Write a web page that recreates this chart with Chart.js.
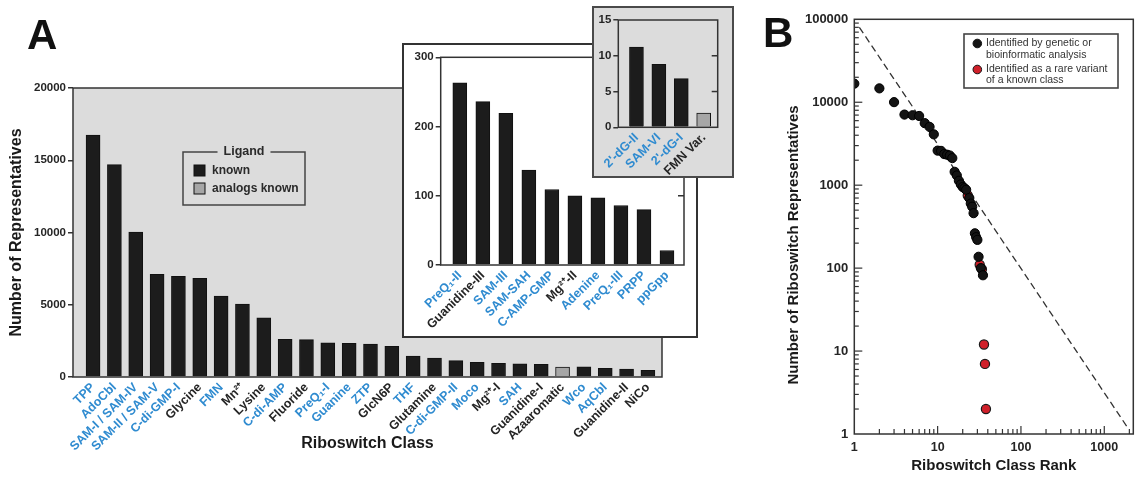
<!DOCTYPE html>
<html><head><meta charset="utf-8">
<script src="https://cdn.jsdelivr.net/npm/chart.js@4.4.1/dist/chart.umd.min.js"></script>
<style>
html,body{margin:0;padding:0;background:#fff;width:1141px;height:478px;overflow:hidden;font-family:"Liberation Sans",Arial,sans-serif;}
.box{position:absolute;box-sizing:border-box;}
canvas{display:block;}
.plabel{position:absolute;font-weight:bold;font-size:42px;line-height:42px;color:#111;font-family:"Liberation Sans",Arial,sans-serif;}
</style></head><body>
<div class="box" style="left:0;top:0;width:740px;height:478px"><canvas id="ca" width="740" height="478"></canvas></div>
<div class="box" style="left:402px;top:43px;width:296px;height:295px;background:#fff;border:2px solid #333"><canvas id="c1" width="292" height="291"></canvas></div>
<div class="box" style="left:592px;top:6px;width:142px;height:172px;background:#dcdcdc;border:2px solid #4a4a4a"><canvas id="c2" width="138" height="168"></canvas></div>
<div class="box" style="left:740px;top:0;width:401px;height:478px"><canvas id="cb" width="401" height="478"></canvas></div>
<div class="plabel" style="left:27px;top:14px">A</div>
<div class="plabel" style="left:763px;top:12px">B</div>
<script>
// ---------------- data ----------------
const mainLabels = ['TPP','AdoCbl','SAM-I / SAM-IV','SAM-II / SAM-V','C-di-GMP-I','Glycine','FMN','Mn²⁺','Lysine','C-di-AMP','Fluoride','PreQ₁-I','Guanine','ZTP','GlcN6P','THF','Glutamine','C-di-GMP-II','Moco','Mg²⁺-I','SAH','Guanidine-I','Azaaromatic','Wco','AqCbl','Guanidine-II','NiCo'];
const mainValues = [16750,14700,10030,7100,6970,6830,5600,5050,4100,2610,2590,2370,2330,2280,2120,1450,1310,1130,1020,950,920,880,690,700,600,550,460];
const mainBlue   = [1,1,1,1,1,0,1,0,0,1,0,1,1,1,0,1,0,1,1,0,1,0,0,1,1,0,0];
const mainAnalog = [0,0,0,0,0,0,0,0,0,0,0,0,0,0,0,0,0,0,0,0,0,0,1,0,0,0,0];
const mainTicks  = [0,5000,10000,15000,20000];

const inset1Labels = ['PreQ₁-II','Guanidine-III','SAM-III','SAM-SAH','C-AMP-GMP','Mg²⁺-II','Adenine','PreQ₁-III','PRPP','ppGpp'];
const inset1Values = [263,236,219,137,109,100,97,86,80,21];
const inset1Blue   = [1,0,1,1,1,0,1,1,1,1];
const inset1Analog = [0,0,0,0,0,0,0,0,0,0];
const inset1Ticks  = [0,100,200,300];

const inset2Labels = ["2'-dG-II",'SAM-VI',"2'-dG-I",'FMN Var.'];
const inset2Values = [11.2,8.8,6.8,2];
const inset2Blue   = [1,1,1,0];
const inset2Analog = [0,0,0,1];
const inset2Ticks  = [0,5,10,15];

const legendTitleA = 'Ligand';
const legendLabelsA = ['known','analogs known'];

const rankKnown  = [1,2,3,4,5,6,7,8,9,10,11,12,13,14,15,16,17,18,19,20,21,22,24,25,26,27,28,29,30,31,33,35];
const valueKnown = [16750,14700,10030,7100,6970,6830,5600,5050,4100,2610,2590,2370,2330,2280,2120,1450,1310,1130,1020,950,920,880,700,600,550,460,263,236,219,137,100,82];
const rankVariant  = [23,32,34,36,37,38];
const valueVariant = [750,110,97,12,7,2];
const fitRank  = [1.15,1900];
const fitValue = [80000,1.2];
const rankTicks  = [1,10,100,1000];
const countTicks = [1,10,100,1000,10000,100000];
const legendLabelsB = [['Identified by genetic or','bioinformatic analysis'],['Identified as a rare variant','of a known class']];

// ---------------- styles ----------------
const FAM = '"Liberation Sans", Arial, sans-serif';
Chart.defaults.font.family = FAM;
const BLACK = '#1c1c1c', GREY = '#a6a6a6', BLUE = '#2f8bd0', DARK = '#252525', PANEL = '#dcdcdc', FRAME = '#333';

const framePlugin = {
  id: 'frame',
  beforeDraw(chart, args, o) {
    if (!o.fill) return;
    const a = chart.chartArea, c = chart.ctx;
    c.save(); c.fillStyle = o.fill; c.fillRect(a.left, a.top, a.right - a.left, a.bottom - a.top); c.restore();
  },
  afterDatasetsDraw(chart, args, o) {
    const a = chart.chartArea, c = chart.ctx;
    c.save();
    c.strokeStyle = FRAME; c.lineWidth = o.lw || 1.5;
    c.strokeRect(a.left, a.top, a.right - a.left, a.bottom - a.top);
    if (o.rightTicks) {
      const y = chart.scales.y;
      o.rightTicks.forEach(v => { const p = y.getPixelForValue(v); c.beginPath(); c.moveTo(a.right, p); c.lineTo(a.right - 6, p); c.stroke(); });
    }
    c.restore();
  }
};

function barChart(id, labels, values, blue, analog, ticks, o) {
  return new Chart(document.getElementById(id), {
    type: 'bar',
    data: { datasets: [{
      data: values.map((v, i) => ({ x: i, y: v })),
      backgroundColor: analog.map(a => a ? GREY : BLACK),
      borderColor: '#111', borderWidth: 1, barThickness: 14
    }]},
    options: {
      responsive: false, animation: false,
      layout: { padding: { top: o.padTop, right: o.padRight, left: 0, bottom: 0 } },
      plugins: { legend: { display: false }, tooltip: { enabled: false }, frame: { fill: o.fill, rightTicks: o.rightTicks } },
      scales: {
        x: {
          type: 'linear', min: o.xmin, max: o.xmax, offset: false,
          afterBuildTicks: s => { s.ticks = labels.map((_, i) => ({ value: i })); },
          afterFit: s => { s.height = o.xh; },
          grid: { display: false, offset: false, drawTicks: false },
          border: { display: false },
          ticks: {
            autoSkip: false, minRotation: 45, maxRotation: 45, padding: 3,
            font: { size: 12.5, weight: 'bold' },
            color: c => blue[c.index] ? BLUE : DARK,
            callback: (v, i) => labels[i]
          },
          title: o.xTitle ? { display: true, text: o.xTitle, color: '#1a1a1a', font: { size: 16, weight: 'bold' }, padding: { top: 0, bottom: 25 } } : { display: false }
        },
        y: {
          min: 0, max: ticks[ticks.length - 1],
          afterBuildTicks: s => { s.ticks = ticks.map(v => ({ value: v })); },
          afterFit: s => { s.width = o.yw; },
          grid: { drawOnChartArea: false, drawTicks: true, tickLength: 5, color: FRAME, lineWidth: 1.5 },
          border: { display: false },
          ticks: { padding: 2, font: { size: 11.5, weight: 'bold' }, color: DARK, callback: v => String(v) },
          title: o.yTitle ? { display: true, text: o.yTitle, color: '#1a1a1a', font: { size: 16, weight: 'bold' }, padding: { top: 7, bottom: 0 } } : { display: false }
        }
      }
    },
    plugins: [framePlugin, o.extra || {id: 'none' + id}]
  });
}

// Legend for panel A
const legendA = {
  id: 'legendA',
  afterDraw(chart) {
    const c = chart.ctx;
    const L = 183, T = 152, R = 305, B = 205, cx = 244;
    c.save();
    c.font = 'bold 12.5px ' + FAM;
    const tw = c.measureText(legendTitleA).width;
    c.strokeStyle = '#444'; c.lineWidth = 1.5;
    c.beginPath(); c.moveTo(cx - tw / 2 - 6, T); c.lineTo(L, T); c.lineTo(L, B); c.lineTo(R, B); c.lineTo(R, T); c.lineTo(cx + tw / 2 + 6, T); c.stroke();
    c.fillStyle = '#2a2a2a'; c.textAlign = 'center'; c.textBaseline = 'middle';
    c.fillText(legendTitleA, cx, T);
    c.font = 'bold 12px ' + FAM; c.textAlign = 'left';
    legendLabelsA.forEach((t, i) => {
      const y = 170.5 + i * 18;
      c.fillStyle = i ? GREY : BLACK; c.fillRect(194, y - 5.5, 11, 11);
      c.strokeStyle = '#111'; c.lineWidth = 1; c.strokeRect(194, y - 5.5, 11, 11);
      c.fillStyle = '#2a2a2a'; c.fillText(t, 212, y + 0.5);
    });
    c.restore();
  }
};

barChart('ca', mainLabels, mainValues, mainBlue, mainAnalog, mainTicks,
  { padTop: 88, padRight: 78, xmin: -0.94, xmax: 26.66, xh: 101, yw: 73, fill: PANEL,
    xTitle: 'Riboswitch Class', yTitle: 'Number of Representatives', extra: legendA });
barChart('c1', inset1Labels, inset1Values, inset1Blue, inset1Analog, inset1Ticks,
  { padTop: 12.3, padRight: 12, xmin: -0.83, xmax: 9.74, xh: 71, yw: 36.7, rightTicks: [100, 200] });
barChart('c2', inset2Labels, inset2Values, inset2Blue, inset2Analog, inset2Ticks,
  { padTop: 12, padRight: 14.3, xmin: -0.81, xmax: 3.625, xh: 48.7, yw: 24.3, rightTicks: [5, 10] });

// ---------------- panel B ----------------
const bDecor = {
  id: 'bDecor',
  afterDatasetsDraw(chart) {
    const a = chart.chartArea, c = chart.ctx, xs = chart.scales.x, ys = chart.scales.y;
    c.save();
    c.strokeStyle = FRAME; c.lineWidth = 1.5;
    c.strokeRect(a.left, a.top, a.right - a.left, a.bottom - a.top);
    c.lineWidth = 1.2;
    for (let d = 0; d <= 4; d++) {
      for (let m = 1; m <= 9; m++) {
        const v = m * Math.pow(10, d);
        if (v > 1 && v < 100000) {
          const p = ys.getPixelForValue(v);
          c.beginPath(); c.moveTo(a.left, p); c.lineTo(a.left + (m === 1 ? 8 : 4.5), p); c.stroke();
        }
        if (v > 1 && v < 2230) {
          const q = xs.getPixelForValue(v);
          c.beginPath(); c.moveTo(q, a.bottom); c.lineTo(q, a.bottom - (m === 1 ? 8 : 5), p => 0); c.stroke();
        }
      }
    }
    c.restore();
  },
  afterDraw(chart) {
    const c = chart.ctx;
    c.save();
    // y title
    c.translate(54, 245); c.rotate(-Math.PI / 2);
    c.font = 'bold 15px ' + FAM; c.fillStyle = '#1a1a1a'; c.textAlign = 'center'; c.textBaseline = 'middle';
    c.fillText('Number of Riboswitch Representatives', 0, 0);
    c.restore();
    // legend
    c.save();
    const L = 224, T = 34, R = 378, B = 88;
    c.strokeStyle = '#444'; c.lineWidth = 1.6; c.strokeRect(L, T, R - L, B - T);
    c.font = '10.5px ' + FAM; c.fillStyle = '#333'; c.textBaseline = 'middle'; c.textAlign = 'left';
    const ys = [[43.5, 55], [69.5, 80.5]];
    const fills = ['#141414', '#d0202a'];
    legendLabelsB.forEach((lines, i) => {
      c.beginPath(); c.arc(237.3, ys[i][0], 4.3, 0, Math.PI * 2); c.fillStyle = fills[i]; c.fill();
      c.strokeStyle = '#111'; c.lineWidth = 1; c.stroke();
      c.fillStyle = '#333';
      lines.forEach((t, j) => c.fillText(t, 246, ys[i][j]));
    });
    c.restore();
  }
};

new Chart(document.getElementById('cb'), {
  type: 'scatter',
  data: { datasets: [
    { data: rankKnown.map((r, i) => ({ x: r, y: valueKnown[i] })), backgroundColor: '#141414', borderColor: '#000', borderWidth: 1, pointRadius: 4.6 },
    { data: rankVariant.map((r, i) => ({ x: r, y: valueVariant[i] })), backgroundColor: '#d0202a', borderColor: '#1a1a1a', borderWidth: 1.2, pointRadius: 4.6 },
    { type: 'line', data: fitRank.map((r, i) => ({ x: r, y: fitValue[i] })), borderColor: '#333', borderWidth: 1.3, borderDash: [7, 4], pointRadius: 0, fill: false }
  ]},
  options: {
    responsive: false, animation: false,
    layout: { padding: { top: 19.3, right: 7.7, left: 0, bottom: 0 } },
    plugins: { legend: { display: false }, tooltip: { enabled: false } },
    scales: {
      x: {
        type: 'logarithmic', min: 1, max: 2230,
        afterBuildTicks: s => { s.ticks = rankTicks.map(v => ({ value: v })); },
        afterFit: s => { s.height = 44; },
        grid: { display: false, drawTicks: false }, border: { display: false },
        ticks: { maxRotation: 0, minRotation: 0, padding: 6, font: { size: 12.5, weight: 'bold' }, color: DARK, callback: v => String(v) },
        title: { display: true, text: 'Riboswitch Class Rank', color: '#1a1a1a', font: { size: 15, weight: 'bold' }, padding: { top: 0, bottom: 3 } }
      },
      y: {
        type: 'logarithmic', min: 1, max: 100000,
        afterBuildTicks: s => { s.ticks = countTicks.map(v => ({ value: v })); },
        afterFit: s => { s.width = 114.3; },
        grid: { display: false, drawTicks: false }, border: { display: false },
        ticks: { padding: 6, font: { size: 13, weight: 'bold' }, color: DARK, callback: v => String(v) }
      }
    }
  },
  plugins: [bDecor]
});
</script>
</body></html>
